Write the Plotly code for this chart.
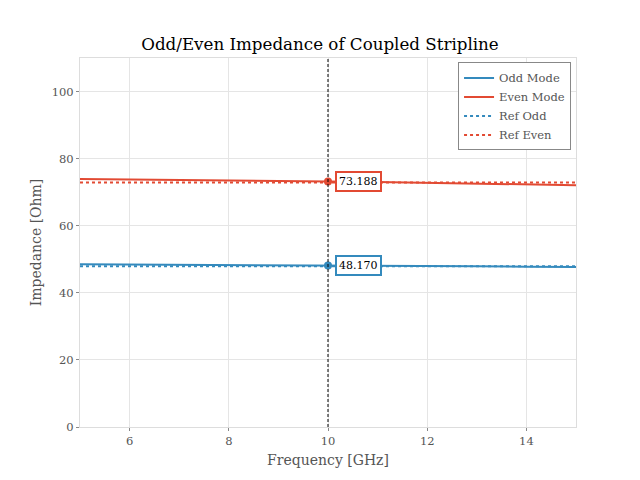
import plotly.graph_objects as go

freq = [5, 6, 7, 8, 9, 10, 11, 12, 13, 14, 15]
odd_mode = [48.5, 48.45, 48.4, 48.33, 48.25, 48.17, 48.08, 48.0, 47.9, 47.8, 47.7]
even_mode = [73.9, 73.8, 73.7, 73.55, 73.4, 73.188, 73.0, 72.8, 72.6, 72.35, 72.1]
ref_odd = [47.9] * len(freq)
ref_even = [72.85] * len(freq)
marker_freq = 10
marker_odd = 48.170
marker_even = 73.188

BLUE = "#348ABD"
RED = "#E24A33"
FONT = "DejaVu Serif"

fig = go.Figure()
fig.add_trace(go.Scatter(x=freq, y=odd_mode, mode="lines", name="Odd Mode",
                         line=dict(color=BLUE, width=2)))
fig.add_trace(go.Scatter(x=freq, y=even_mode, mode="lines", name="Even Mode",
                         line=dict(color=RED, width=2)))
fig.add_trace(go.Scatter(x=freq, y=ref_odd, mode="lines", name="Ref Odd",
                         line=dict(color=BLUE, width=2, dash="dot")))
fig.add_trace(go.Scatter(x=freq, y=ref_even, mode="lines", name="Ref Even",
                         line=dict(color=RED, width=2, dash="dot")))

fig.add_shape(type="line", xref="x", yref="paper", x0=marker_freq, x1=marker_freq, y0=0, y1=1,
              line=dict(color="black", width=1, dash="3px,2px"), opacity=1, layer="above")

fig.add_trace(go.Scatter(x=[marker_freq], y=[marker_odd], mode="markers", showlegend=False,
                         marker=dict(color=BLUE, size=8)))
fig.add_trace(go.Scatter(x=[marker_freq], y=[marker_even], mode="markers", showlegend=False,
                         marker=dict(color=RED, size=8)))

for val, col in [(marker_odd, BLUE), (marker_even, RED)]:
    fig.add_annotation(x=marker_freq, y=val, text=f"{val:.3f}", showarrow=False,
                       xanchor="left", xshift=7, font=dict(family=FONT, size=11, color="black"),
                       bgcolor="white", bordercolor=col, borderwidth=2, borderpad=2)

axis_common = dict(showgrid=True, gridcolor="#E5E5E5", gridwidth=1, showline=True,
                   linecolor="#DDDDDD", linewidth=1, mirror=True, zeroline=False,
                   ticks="outside", ticklen=3, tickcolor="#888888",
                   tickfont=dict(family=FONT, size=11.5, color="#555555"))

fig.update_layout(
    width=640, height=480,
    paper_bgcolor="white", plot_bgcolor="white",
    margin=dict(l=80, r=64, t=58, b=53),
    title=dict(text="Odd/Even Impedance of Coupled Stripline", x=0.5, xanchor="center",
               y=1 - 44 / 480, yanchor="middle",
               font=dict(family=FONT, size=16.7, color="black")),
    xaxis=dict(range=[5, 15], dtick=2, tick0=6,
               title=dict(text="Frequency [GHz]", font=dict(family=FONT, size=14, color="#555555"), standoff=8),
               **axis_common),
    yaxis=dict(range=[0, 110], dtick=20,
               title=dict(text="Impedance [Ohm]", font=dict(family=FONT, size=14, color="#555555"), standoff=6),
               **axis_common),
    legend=dict(x=0.99, y=0.988, xanchor="right", yanchor="top",
                bgcolor="white", bordercolor="#888888", borderwidth=1,
                font=dict(family=FONT, size=11.5, color="#555555"),
                tracegroupgap=0, itemwidth=30),
    showlegend=True,
)

fig.write_html("out.html")
